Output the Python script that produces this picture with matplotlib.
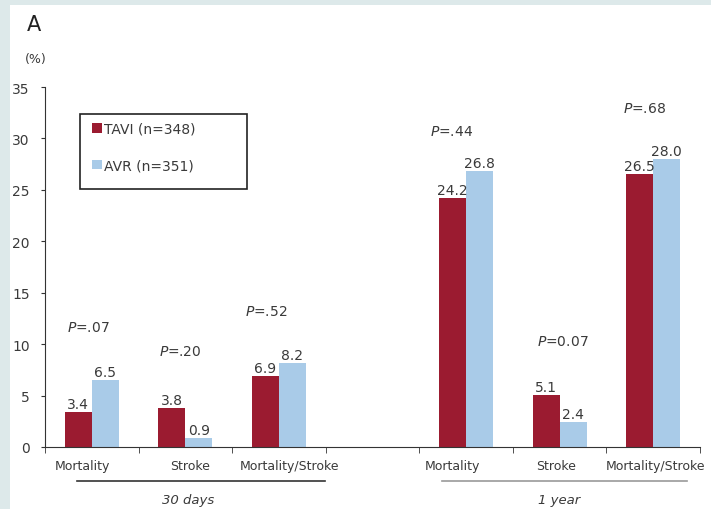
import numpy as np
import matplotlib
matplotlib.use("Agg")
import matplotlib.pyplot as plt
from matplotlib.patches import Rectangle
import matplotlib.transforms as mtransforms

plt.rcParams['font.family'] = ['DejaVu Sans']
plt.rcParams['mathtext.fontset'] = 'dejavusans'

# data
categories = ["Mortality", "Stroke", "Mortality/Stroke",
              "Mortality", "Stroke", "Mortality/Stroke"]
slots = [0, 1, 2, 4, 5, 6]
label_pos = [-0.105, 1.05, 2.11, 3.85, 4.96, 6.02]
tavi = [3.4, 3.8, 6.9, 24.2, 5.1, 26.5]
avr = [6.5, 0.9, 8.2, 26.8, 2.4, 28.0]
p_labels = [".07", ".20", ".52", ".44", "0.07", ".68"]
p_x = [-0.04, 0.94, 1.87, 3.85, 5.03, 5.91]
p_y = [11.7, 9.3, 13.2, 30.7, 10.3, 33.0]
groups = ["30 days", "1 year"]
group_span = [(-0.16, 2.49), (3.74, 6.36)]
group_text_x = [1.03, 4.99]
group_col = ["#333333", "#999999"]

red = "#9b1b30"
blue = "#a9cbe8"
txt = "#3a3a3a"

fig = plt.figure(figsize=(7.11, 5.10), dpi=100)
fig.patch.set_facecolor("#dde9ea")
fig.patches.append(Rectangle((10 / 711, 0), 1, 1 - 6 / 510, transform=fig.transFigure,
                             facecolor="white", edgecolor="none", zorder=-10))

ax = fig.add_axes([45 / 711, 62 / 510, 655 / 711, 360 / 510])
ax.set_facecolor("none")

x = np.array(slots, dtype=float)
w = 0.29
b1 = ax.bar(x - w / 2, tavi, w, color=red, label="TAVI (n=348)")
b2 = ax.bar(x + w / 2, avr, w, color=blue, label="AVR (n=351)")

for xi, v in zip(x - w / 2, tavi):
    ax.text(xi, v + 0.1, "%.1f" % v, ha="center", va="bottom", fontsize=10, color=txt)
for xi, v in zip(x + w / 2, avr):
    ax.text(xi, v + 0.1, "%.1f" % v, ha="center", va="bottom", fontsize=10, color=txt)

for px, py, pl in zip(p_x, p_y, p_labels):
    ax.text(px, py, r"$\it{P}$=" + pl, ha="center", va="center", fontsize=10, color=txt)

ax.set_xlim(-0.5, 6.5)
ax.set_ylim(0, 35)
ax.set_yticks(np.arange(0, 36, 5))
ax.set_xticks(label_pos)
ax.set_xticklabels(categories, fontsize=9, color=txt)
ax.set_xticks([-0.5, 0.5, 1.5, 2.5, 3.5, 4.5, 5.5, 6.5], minor=True)
ax.tick_params(axis="x", which="major", length=0, pad=9)
ax.tick_params(axis="x", which="minor", length=4, color="#333333")
ax.tick_params(axis="y", length=3, pad=8, labelsize=10, labelcolor=txt, color="#333333")
for s in ["top", "right"]:
    ax.spines[s].set_visible(False)
for s in ["left", "bottom"]:
    ax.spines[s].set_color("#333333")

trans = mtransforms.blended_transform_factory(ax.transData, ax.transAxes)
for g, (a, b), tx, c in zip(groups, group_span, group_text_x, group_col):
    ax.plot([a, b], [-0.094, -0.094], color=c, lw=1.2, transform=trans, clip_on=False)
    ax.text(tx, -0.145, g, transform=trans, ha="center", va="center",
            fontsize=9.5, style="italic", color=txt)

# legend with manual frame
ax.add_patch(Rectangle((35 / 655, 258 / 360), 167 / 655, 75 / 360, transform=ax.transAxes,
                       facecolor="white", edgecolor="#222222", lw=1.2, zorder=3))
leg = ax.legend(handles=[b1, b2], loc="upper left", bbox_to_anchor=(47 / 655, 325 / 360),
                frameon=False, fontsize=10, handlelength=0.7, handleheight=0.7,
                handletextpad=0.2, labelspacing=1.6, borderpad=0, borderaxespad=0)
leg.set_zorder(4)
for t in leg.get_texts():
    t.set_color(txt)

fig.text(27 / 711, 1 - 25 / 510, "A", fontsize=15, ha="left", va="center", color="#222222")
fig.text(36 / 711, 1 - 60 / 510, "(%)", fontsize=9, ha="center", va="center", color=txt)

fig.savefig("out.png", dpi=100, facecolor=fig.get_facecolor())
